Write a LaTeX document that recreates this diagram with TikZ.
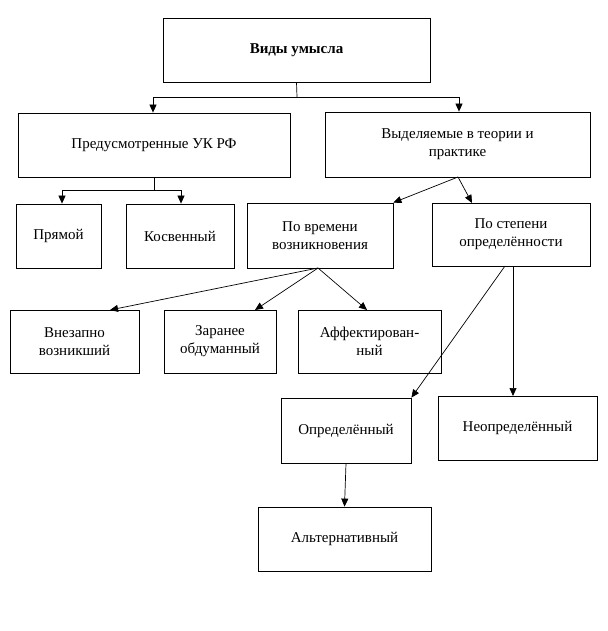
\documentclass[tikz,border=0pt]{standalone}
\usepackage{fontspec}
\setmainfont{Liberation Serif}
\usetikzlibrary{arrows.meta}
\begin{document}
\begin{tikzpicture}[x=1pt,y=-1pt,
  box/.style={draw,line width=0.8pt,inner sep=0pt,align=center,font=\fontsize{15}{18}\selectfont},
  arr/.style={line width=0.7pt,-{Triangle[length=8pt,width=7pt]}},
  ln/.style={line width=0.7pt}]
\useasboundingbox (0,0) rectangle (607,631);
\newcommand\bx[6]{\node[box,minimum width=#4-#2,minimum height=#5-#3] (#1) at ({(#2+#4)/2},{(#3+#5)/2}) {#6};}
\bx{a}{163}{18}{430}{82}{\textbf{Виды умысла}}
\bx{b}{18}{113}{290}{177}{Предусмотренные УК РФ}
\bx{c}{325}{112}{590}{177}{Выделяемые в теории и\\практике}
\bx{d}{16}{204}{101}{268}{Прямой}
\bx{e}{126}{204}{234}{268}{Косвенный}
\bx{f}{247}{203}{393}{268}{По времени\\возникновения}
\bx{g}{432}{203}{590}{266}{По степени\\определённости}
\bx{h}{10}{310}{139}{373}{Внезапно\\возникший}
\bx{i}{164}{310}{276}{373}{Заранее\\обдуманный}
\bx{j}{298}{310}{441}{373}{Аффектирован-\\ный}
\bx{k}{281}{398}{411}{463}{Определённый}
\bx{l}{438}{396}{597}{460}{Неопределённый}
\bx{m}{258}{507}{431}{571}{Альтернативный}
\coordinate (a1) at (297,97);
\draw[ln] (a.south) -- (a1);
\draw[arr] (a1) -| (153,113 |- b.north);
\draw[arr] (a1) -| (459,112 |- c.north);
\coordinate (b1) at (154,190);
\draw[ln] (b.south) -- (b1);
\draw[arr] (b1) -| (d.north -| 62,0);
\draw[arr] (b1) -| (e.north -| 181,0);
\coordinate (c1) at (458,177);
\draw[arr] (c1) -- (f.north east);
\draw[arr] (c1) -- (472,203);
\coordinate (f1) at (318,268);
\draw[arr] (f1) -- (110,310);
\draw[arr] (f1) -- (255,310);
\draw[arr] (f1) -- (367,310);
\draw[arr] (505,266) -- (k.north east);
\draw[arr] (513,266) -- (513,396);
\draw[arr] (k.south) -- (m.north);
\end{tikzpicture}
\end{document}
